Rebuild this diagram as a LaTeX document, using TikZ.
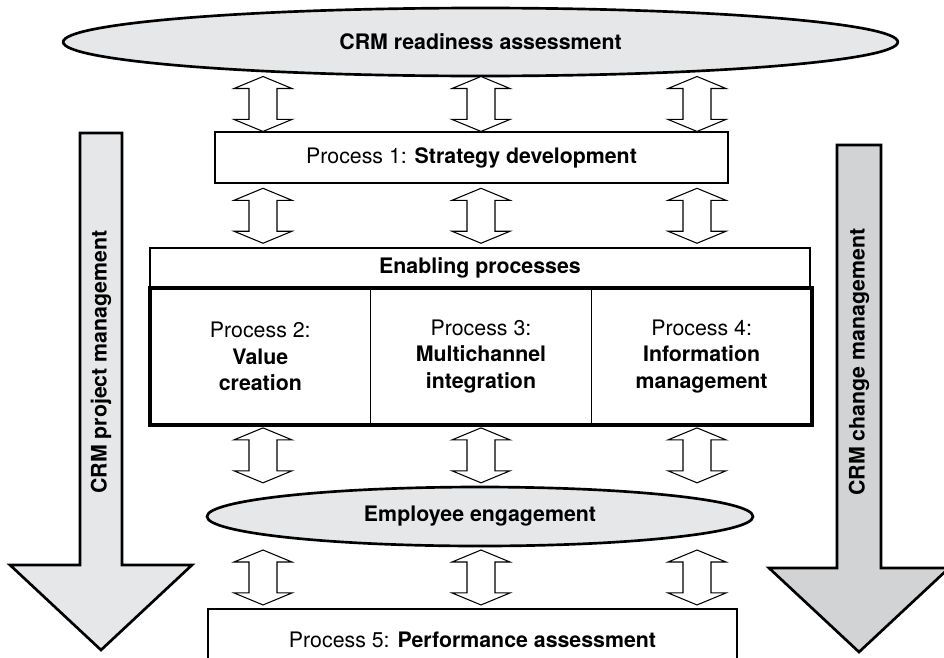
\documentclass[tikz,border=0pt]{standalone}
\usepackage{fontspec}
\setmainfont{TeX Gyre Heros}
\usepackage{tikz}
\usetikzlibrary{calc,positioning,shapes.geometric}
\definecolor{crmlight}{HTML}{E6E7E8}
\definecolor{crmdark}{HTML}{D1D3D4}
\newcommand{\crmfont}{\fontsize{16}{20}\selectfont}
\tikzset{
  every node/.style={font=\crmfont},
  oval/.style={ellipse, draw, line width=2pt, fill=crmlight, inner sep=0pt, font=\crmfont\bfseries},
  procbox/.style={draw, line width=2.1pt, fill=white, inner sep=0pt, align=center},
  cell/.style={draw, line width=0.8pt, minimum width=165.5pt, minimum height=102.75pt, inner sep=0pt, outer sep=0pt, align=center},
  twoway/.style={draw, line width=0.8pt, fill=white, line join=miter},
  bigarrow/.style={draw, line width=2pt, line join=miter},
  sidelabel/.style={rotate=90, font=\crmfont\bfseries}
}
% hollow up-down arrow halfway between two points
\newcommand{\updown}[2]{%
  \path[twoway] ($(#1)!0.5!(#2)+(0pt,20.6pt)$) -- ++(21.75pt,-9pt) -- ++(-11.25pt,0pt)
    -- ++(0pt,-23.2pt) -- ++(11.25pt,0pt) -- ++(-21.75pt,-9pt) -- ++(-21.75pt,9pt)
    -- ++(11.25pt,0pt) -- ++(0pt,23.2pt) -- ++(-11.25pt,0pt) -- cycle;}

\begin{document}
\begin{tikzpicture}[x=0.75pt, y=-0.75pt]
  \useasboundingbox (0,0) rectangle (944,657);

  % side arrows
  \draw[bigarrow, fill=crmlight] (80,133) -- (122,133) -- (122,565) -- (192,565)
    -- (101,650) -- (10,565) -- (80,565) -- cycle;
  \node[sidelabel] (projmgmt) at (101,362) {CRM project management};
  \draw[bigarrow, fill=crmdark] (837,145) -- (881,145) -- (881,568) -- (949,568)
    -- (859,652) -- (769,568) -- (837,568) -- cycle;
  \node[sidelabel] (chgmgmt) at (859,362) {CRM change management};

  % process blocks
  \node[oval, minimum width=626pt, minimum height=51pt] (ready) at (480.5,42) {CRM readiness assessment};
  \node[procbox, minimum width=384.75pt, minimum height=38.25pt] (p1) at (471.5,157.5) {Process 1: \textbf{Strategy development}};
  \node[procbox, line width=1.3pt, minimum width=495pt, minimum height=30pt, font=\crmfont\bfseries] (enab) at (480,268) {Enabling processes};
  \node[cell] (p2) at (260.3,356.5) {Process 2:\\\textbf{Value}\\\textbf{creation}};
  \node[cell, right=0pt of p2] (p3) {Process 3:\\\textbf{Multichannel}\\\textbf{integration}};
  \node[cell, right=0pt of p3] (p4) {Process 4:\\\textbf{Information}\\\textbf{management}};
  \draw[line width=2.8pt] (p2.north west) rectangle (p4.south east);
  \node[oval, minimum width=409.5pt, minimum height=44.25pt] (emp) at (480,516.5) {Employee engagement};
  \node[procbox, minimum width=396.75pt, minimum height=45.75pt] (p5) at (472.5,639.5) {Process 5: \textbf{Performance assessment}};

  % links
  \coordinate (c1) at (263,0);
  \coordinate (c2) at (481,0);
  \coordinate (c3) at (697,0);
  \foreach \c in {c1,c2,c3} {
    \updown{ready.south -| \c}{p1.north -| \c}
    \updown{p1.south -| \c}{enab.north -| \c}
    \updown{p3.south -| \c}{emp.north -| \c}
    \updown{emp.south -| \c}{p5.north -| \c}
  }
\end{tikzpicture}
\end{document}
